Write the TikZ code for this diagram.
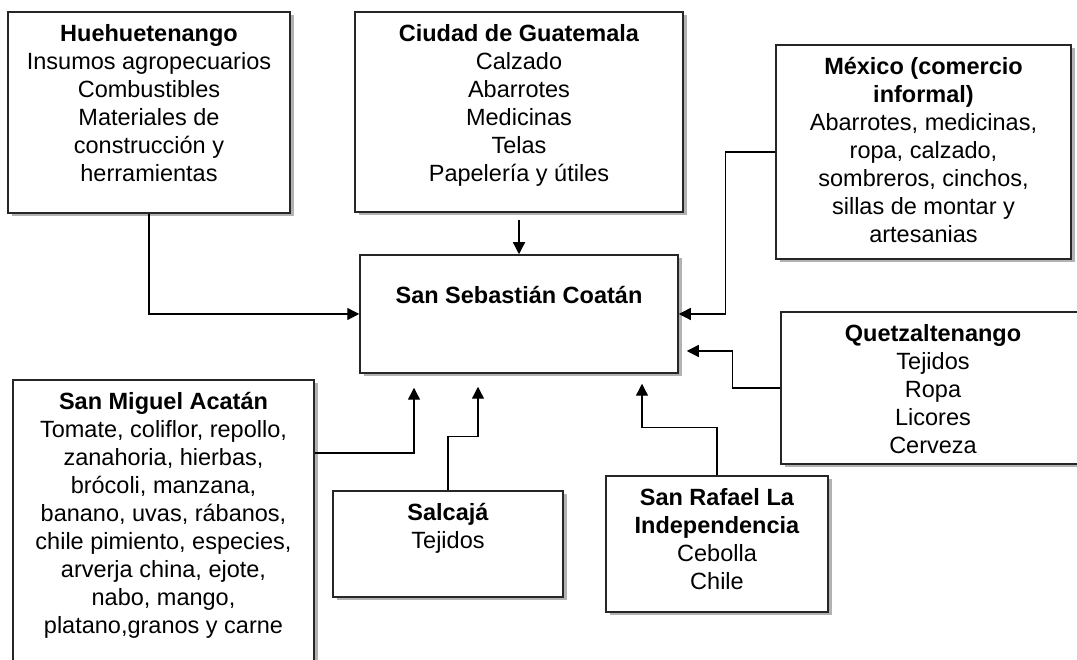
\documentclass[tikz,border=0pt]{standalone}
\usepackage{fontspec}
\setmainfont{Liberation Sans}
\usetikzlibrary{arrows.meta, shadows}

\tikzset{
  caja/.style={draw=black!85, line width=1.5pt, fill=white, inner sep=0pt,
    drop shadow={shadow xshift=3.5pt, shadow yshift=-3.5pt, fill=black, opacity=0.3}},
  texto/.style={align=center, anchor=north, inner sep=0pt, yshift=-13pt},
  flecha/.style={line width=1.3pt, -{Triangle[length=12pt,width=12pt]}}
}

\begin{document}
\begin{tikzpicture}[x=1pt, y=1pt, font=\fontsize{23.5}{28}\selectfont]
    \useasboundingbox (0, 0) rectangle (1077, 660);
    \node[caja, minimum width=282pt, minimum height=201pt,
      label={[texto]north:{\textbf{Huehuetenango}\\Insumos agropecuarios\\Combustibles\\Materiales de\\construcción y\\herramientas}}] (hue) at (149, 547.5) {};
    \node[caja, minimum width=328pt, minimum height=200pt,
      label={[texto]north:{\textbf{Ciudad de Guatemala}\\Calzado\\Abarrotes\\Medicinas\\Telas\\Papelería y útiles}}] (gua) at (519, 548) {};
    \node[caja, minimum width=295pt, minimum height=214pt,
      label={[texto]north:{\textbf{México (comercio}\\\textbf{informal)}\\Abarrotes, medicinas,\\ropa, calzado,\\sombreros, cinchos,\\sillas de montar y\\artesanias}}] (mex) at (923.5, 508) {};
    \node[caja, minimum width=318pt, minimum height=118pt,
      label={[texto, yshift=-19pt]north:{\textbf{San Sebastián Coatán}}}] (main) at (519, 346) {};
    \node[caja, minimum width=304pt, minimum height=152pt,
      label={[texto]north:{\textbf{Quetzaltenango}\\Tejidos\\Ropa\\Licores\\Cerveza}}] (que) at (933, 272) {};
    \node[caja, minimum width=301pt, minimum height=292pt,
      label={[texto]north:{\textbf{San Miguel Acatán}\\Tomate, coliflor, repollo,\\zanahoria, hierbas,\\brócoli, manzana,\\banano, uvas, rábanos,\\chile pimiento, especies,\\arverja china, ejote,\\nabo, mango,\\platano,granos y carne}}] (smig) at (163.5, 134) {};
    \node[caja, minimum width=230pt, minimum height=106pt,
      label={[texto]north:{\textbf{Salcajá}\\Tejidos}}] (sal) at (448, 116) {};
    \node[caja, minimum width=222pt, minimum height=136pt,
      label={[texto]north:{\textbf{San Rafael La}\\\textbf{Independencia}\\Cebolla\\Chile}}] (sraf) at (717, 116) {};
    \draw[flecha] (hue.south) |- (main.west);
    \draw[flecha, shorten <=7pt] (gua.south) -- (main.north);
    \draw[flecha] (mex.west) -- ++(-50, 0) |- (main.east);
    \draw[flecha] (que.west) -- ++(-48, 0) |- ([shift={(8, -37)}]main.east);
    \draw[flecha] (sraf.north) -- ++(0, 48) -| ([shift={(123, -10)}]main.south);
    \draw[flecha] (sal.north) -- ++(0, 54) -| ([shift={(-41, -13)}]main.south);
    \draw[flecha] ([yshift=73pt]smig.east) -| ([shift={(-105, -14)}]main.south);
\end{tikzpicture}
\end{document}
